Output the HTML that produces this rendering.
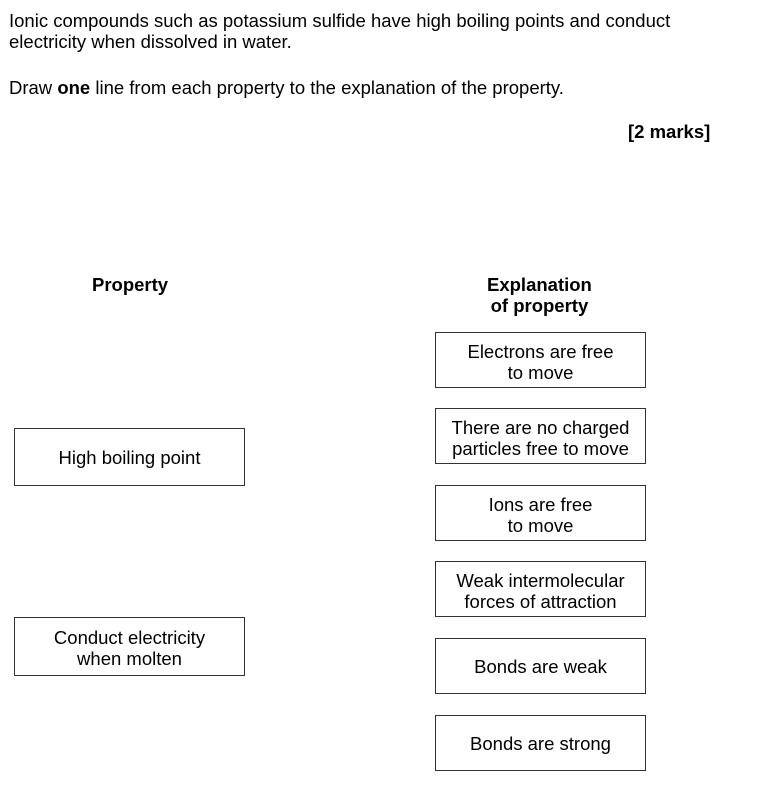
<!DOCTYPE html>
<html><head><style>
body{margin:0;width:762px;height:800px;background:#fff;font-family:"Liberation Sans",Arial,sans-serif;color:#000;position:relative;overflow:hidden}
.t{position:absolute;font-size:18.5px;line-height:21px;white-space:nowrap}
.b{position:absolute;box-sizing:border-box;border:1.3px solid #333;font-size:18.5px;line-height:21px;text-align:center;white-space:nowrap}
</style></head><body>
<div class="t" style="left:9px;top:10px">Ionic compounds such as potassium sulfide have high boiling points and conduct<br>electricity when dissolved in water.</div>
<div class="t" style="left:9px;top:77px">Draw <b>one</b> line from each property to the explanation of the property.</div>
<div class="t" style="left:628px;top:121px"><b>[2 marks]</b></div>
<div class="t" style="left:92px;top:274px"><b>Property</b></div>
<div class="t" style="left:487px;top:274px;text-align:center"><b>Explanation<br>of property</b></div>
<div class="b" style="left:14px;top:428px;width:231px;height:58px;padding-top:18px">High boiling point</div>
<div class="b" style="left:14px;top:617px;width:231px;height:59px;padding-top:9px">Conduct electricity<br>when molten</div>
<div class="b" style="left:435px;top:332px;width:211px;height:56px;padding-top:8px">Electrons are free<br>to move</div>
<div class="b" style="left:435px;top:408px;width:211px;height:56px;padding-top:8px">There are no charged<br>particles free to move</div>
<div class="b" style="left:435px;top:485px;width:211px;height:56px;padding-top:8px">Ions are free<br>to move</div>
<div class="b" style="left:435px;top:561px;width:211px;height:56px;padding-top:8px">Weak intermolecular<br>forces of attraction</div>
<div class="b" style="left:435px;top:638px;width:211px;height:56px;padding-top:17px">Bonds are weak</div>
<div class="b" style="left:435px;top:715px;width:211px;height:56px;padding-top:17px">Bonds are strong</div>
</body></html>
